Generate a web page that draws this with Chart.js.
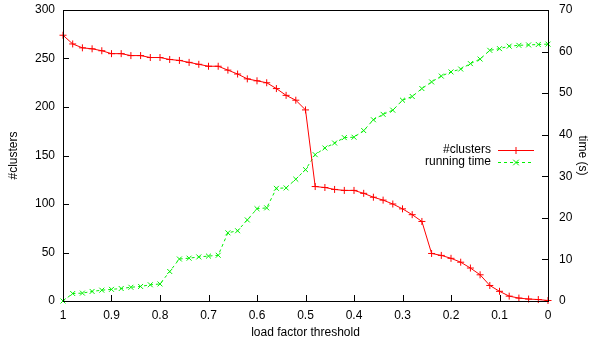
<!DOCTYPE html>
<html>
<head>
<meta charset="utf-8">
<script src="https://cdn.jsdelivr.net/npm/chart.js@4/dist/chart.umd.min.js"></script>
<style>
  html, body { margin: 0; padding: 0; background: #fff; }
  #wrap { width: 595px; height: 345px; }
</style>
</head>
<body>
<div id="wrap"><canvas id="chart"></canvas></div>
<script>
// load factor threshold (x axis, drawn from 1 down to 0)
const thresholds = [1.00, 0.98, 0.96, 0.94, 0.92, 0.90, 0.88, 0.86, 0.84, 0.82,
                    0.80, 0.78, 0.76, 0.74, 0.72, 0.70, 0.68, 0.66, 0.64, 0.62,
                    0.60, 0.58, 0.56, 0.54, 0.52, 0.50, 0.48, 0.46, 0.44, 0.42,
                    0.40, 0.38, 0.36, 0.34, 0.32, 0.30, 0.28, 0.26, 0.24, 0.22,
                    0.20, 0.18, 0.16, 0.14, 0.12, 0.10, 0.08, 0.06, 0.04, 0.02, 0.00];

// number of clusters (left axis)
const clusters = [274, 265, 261, 260, 258, 255, 255, 253, 253, 251,
                  251, 249, 248, 246, 244, 242, 242, 238, 234, 229,
                  227, 225, 219, 212, 207, 197, 118, 117, 115, 114,
                  114, 111, 107, 104, 100, 95, 89, 82, 49, 47,
                  44, 40, 34, 27, 16, 10, 5, 3, 2, 1.5, 0.5];

// running time in seconds (right axis)
const runningTime = [0, 1.8, 1.9, 2.3, 2.6, 2.8, 3.0, 3.3, 3.5, 3.9,
                     4.1, 7.1, 10.1, 10.3, 10.6, 10.8, 11.0, 16.4, 16.9, 19.5,
                     22.2, 22.4, 27.1, 27.2, 29.3, 31.6, 35.2, 36.8, 38.0, 39.3,
                     39.4, 41.0, 43.6, 44.9, 45.9, 48.3, 49.2, 51.1, 52.7, 54.1,
                     55.1, 55.8, 57.1, 58.2, 60.3, 60.7, 61.3, 61.5, 61.6, 61.7, 61.8];

const seriesNames = ["#clusters", "running time"];
const xTitle = "load factor threshold";
const yLeftTitle = "#clusters";
const yRightTitle = "time (s)";

const RED = "#ff0000";
const GREEN = "#00f000";
const FONT = { family: "'Liberation Sans', Arial, sans-serif", size: 12 };

Chart.defaults.font.family = FONT.family;
Chart.defaults.font.size = FONT.size;
Chart.defaults.color = "#000";

// Draws the plot frame, the inward tick marks and the gnuplot style key
const gnuplotFrame = {
  id: "gnuplotFrame",
  afterDraw(chart) {
    const ctx = chart.ctx;
    const area = chart.chartArea;
    const sx = chart.scales.x, sl = chart.scales.y, sr = chart.scales.y2;
    const tick = 6;

    ctx.save();
    ctx.strokeStyle = "#000";
    ctx.lineWidth = 1;
    ctx.strokeRect(Math.round(area.left) + 0.5, Math.round(area.top) + 0.5,
                   Math.round(area.right - area.left), Math.round(area.bottom - area.top));

    ctx.beginPath();
    sx.ticks.forEach(t => {
      const px = Math.round(sx.getPixelForValue(t.value)) + 0.5;
      ctx.moveTo(px, area.bottom);
      ctx.lineTo(px, area.bottom - tick);
    });
    sl.ticks.forEach(t => {
      const py = Math.round(sl.getPixelForValue(t.value)) + 0.5;
      ctx.moveTo(area.left, py);
      ctx.lineTo(area.left + tick, py);
    });
    sr.ticks.forEach(t => {
      const py = Math.round(sr.getPixelForValue(t.value)) + 0.5;
      ctx.moveTo(area.right, py);
      ctx.lineTo(area.right - tick, py);
    });
    ctx.stroke();

    // key: text right aligned, sample line on the right
    const textRight = 491, lineStart = 498, lineEnd = 534, rowY = [150, 162];
    ctx.font = FONT.size + "px " + FONT.family;
    ctx.textAlign = "right";
    ctx.textBaseline = "middle";
    chart.data.datasets.forEach((ds, i) => {
      const y = rowY[i] + 0.5;
      ctx.fillStyle = "#000";
      ctx.fillText(ds.label, textRight, rowY[i]);
      ctx.strokeStyle = ds.borderColor;
      ctx.setLineDash(ds.borderDash || []);
      ctx.beginPath();
      ctx.moveTo(lineStart, y);
      ctx.lineTo(lineEnd, y);
      ctx.stroke();
      ctx.setLineDash([]);
      const mx = (lineStart + lineEnd) / 2, r = 3.5;
      ctx.beginPath();
      if (ds.pointStyle === "cross") {
        ctx.moveTo(mx - r, y); ctx.lineTo(mx + r, y);
        ctx.moveTo(mx, y - r); ctx.lineTo(mx, y + r);
      } else {
        ctx.moveTo(mx - r * 0.8, y - r * 0.8); ctx.lineTo(mx + r * 0.8, y + r * 0.8);
        ctx.moveTo(mx - r * 0.8, y + r * 0.8); ctx.lineTo(mx + r * 0.8, y - r * 0.8);
      }
      ctx.stroke();
    });
    ctx.restore();
  }
};

new Chart(document.getElementById("chart"), {
  type: "line",
  data: {
    datasets: [
      {
        label: seriesNames[0],
        data: thresholds.map((x, i) => ({ x: x, y: clusters[i] })),
        yAxisID: "y",
        borderColor: RED,
        backgroundColor: RED,
        borderWidth: 1,
        pointStyle: "cross",
        pointRadius: 3.5,
        pointBorderWidth: 1,
        clip: false,
        tension: 0
      },
      {
        label: seriesNames[1],
        data: thresholds.map((x, i) => ({ x: x, y: runningTime[i] })),
        yAxisID: "y2",
        borderColor: GREEN,
        backgroundColor: GREEN,
        borderWidth: 1,
        borderDash: [3, 3],
        pointStyle: "crossRot",
        pointRadius: 3.5,
        pointBorderWidth: 1,
        clip: false,
        tension: 0
      }
    ]
  },
  options: {
    responsive: true,
    maintainAspectRatio: false,
    animation: false,
    layout: { padding: { top: 10, left: 0, right: 0, bottom: 0 } },
    plugins: { legend: { display: false }, tooltip: { enabled: false } },
    scales: {
      x: {
        type: "linear",
        reverse: true,
        min: 0,
        max: 1,
        afterFit: s => { s.height = 44; s.paddingLeft = 0; s.paddingRight = 0; },
        grid: { display: false, drawTicks: false },
        border: { display: false },
        ticks: {
          stepSize: 0.1,
          padding: 7,
          maxRotation: 0,
          callback: v => String(parseFloat(v.toFixed(1)))
        },
        title: { display: true, text: xTitle, padding: { top: 0, bottom: 5 } }
      },
      y: {
        position: "left",
        min: 0,
        max: 300,
        afterFit: s => { s.width = 63; s.paddingTop = 0; s.paddingBottom = 0; },
        grid: { display: false, drawTicks: false },
        border: { display: false },
        ticks: { stepSize: 50, padding: 8 },
        title: { display: true, text: yLeftTitle, padding: { top: 6, bottom: 0 } }
      },
      y2: {
        position: "right",
        min: 0,
        max: 70,
        afterFit: s => { s.width = 47; s.paddingTop = 0; s.paddingBottom = 0; },
        grid: { display: false, drawTicks: false },
        border: { display: false },
        ticks: { stepSize: 10, padding: 11 },
        title: { display: true, text: yRightTitle, padding: { top: 5, bottom: 0 } }
      }
    }
  },
  plugins: [gnuplotFrame]
});
</script>
</body>
</html>
